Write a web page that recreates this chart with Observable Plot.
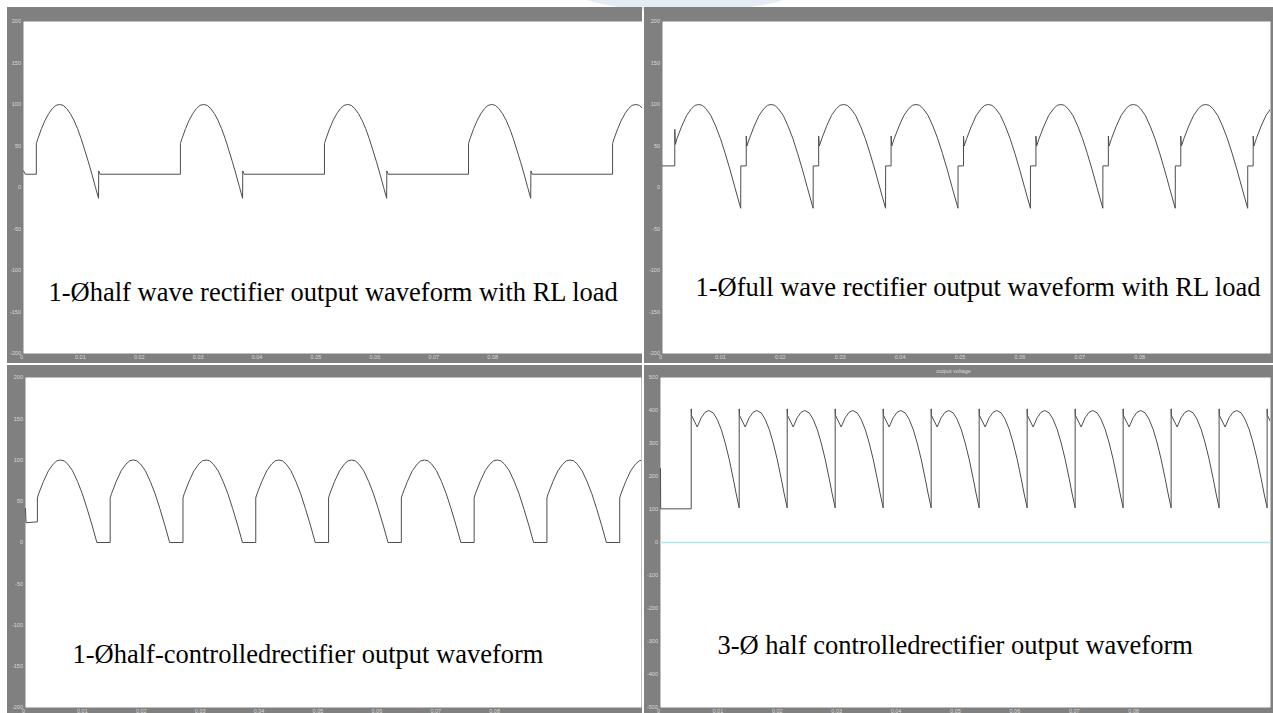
<!DOCTYPE html>
<html>
<head>
<meta charset="utf-8">
<script src="https://cdn.jsdelivr.net/npm/d3@7"></script>
<script src="https://cdn.jsdelivr.net/npm/@observablehq/plot@0.6"></script>
<style>
  html, body { margin: 0; padding: 0; background: #ffffff; }
  #page { position: relative; width: 1273px; height: 713px; overflow: hidden; background: #ffffff; }
  .panel { position: absolute; }
  .panel svg { display: block; }
  #mark { position: absolute; left: 545px; top: -70px; width: 280px; height: 82px; border-radius: 50%; background: #e4ebf2; }
</style>
</head>
<body>
<div id="page"><div id="mark"></div></div>
<script>
// ---- tick values and labels ----
const xTicks = [0, 0.01, 0.02, 0.03, 0.04, 0.05, 0.06, 0.07, 0.08];
const xTickLabels = ["0", "0.01", "0.02", "0.03", "0.04", "0.05", "0.06", "0.07", "0.08"];
const yTicks200 = [200, 150, 100, 50, 0, -50, -100, -150, -200];
const yTicks500 = [500, 400, 300, 200, 100, 0, -100, -200, -300, -400, -500];

// ---- captions ----
const captions = [
  "1-Øhalf wave rectifier output waveform with RL load",
  "1-Øfull wave rectifier output waveform with RL load",
  "1-Øhalf-controlledrectifier output waveform",
  "3-Ø half controlledrectifier output waveform"
];
const scopeTitle = "output voltage";

// ---- series: [time (s), output voltage (V)] ----
const halfWaveRL = [
  [0,20],[0.0003,16],[0.00218,16],[0.00218,53],[0.00245,59],[0.00306,71],[0.00367,81],[0.00428,89],[0.00489,95],[0.0055,99],[0.00612,100],[0.00673,99],[0.00734,95],[0.00795,89],[0.00856,81],[0.00917,71],[0.00978,59],[0.0104,45],[0.01101,31],[0.01162,16],[0.01223,0],[0.01274,-13],[0.01277,20],[0.01301,16],
  [0.02664,16],[0.02664,53],[0.02691,59],[0.02752,71],[0.02813,81],[0.02874,89],[0.02935,95],[0.02996,99],[0.03058,100],[0.03119,99],[0.0318,95],[0.03241,89],[0.03302,81],[0.03363,71],[0.03424,59],[0.03486,45],[0.03547,31],[0.03608,16],[0.03669,0],[0.0372,-13],[0.03723,20],[0.03747,16],
  [0.0511,16],[0.0511,53],[0.05137,59],[0.05198,71],[0.05259,81],[0.0532,89],[0.05381,95],[0.05442,99],[0.05504,100],[0.05565,99],[0.05626,95],[0.05687,89],[0.05748,81],[0.05809,71],[0.0587,59],[0.05932,45],[0.05993,31],[0.06054,16],[0.06115,0],[0.06166,-13],[0.06169,20],[0.06193,16],
  [0.07556,16],[0.07556,53],[0.07583,59],[0.07644,71],[0.07705,81],[0.07766,89],[0.07827,95],[0.07888,99],[0.0795,100],[0.08011,99],[0.08072,95],[0.08133,89],[0.08194,81],[0.08255,71],[0.08316,59],[0.08378,45],[0.08439,31],[0.085,16],[0.08561,0],[0.08612,-13],[0.08615,20],[0.08639,16],
  [0.10002,16],[0.10002,53],[0.10029,59],[0.1009,71],[0.10151,81],[0.10212,89],[0.10273,95],[0.10334,99],[0.10396,100],[0.10457,99],[0.10518,95]
];

const fullWaveRL = [
  [0,26],[0.00205,26],[0.00205,70],[0.00215,52],[0.00242,59],[0.00322,74],[0.00404,87],[0.00484,95],[0.00544,99],[0.00605,100],[0.00665,99],[0.00725,95],[0.00805,87],[0.00887,74],[0.00967,59],[0.01047,41],[0.01129,21],[0.01209,0],[0.01257,-12.5],[0.01306,-25],[0.01307,26],
  [0.01398,26],[0.01398,62],[0.01409,50],[0.01451,59],[0.01531,74],[0.01613,87],[0.01693,95],[0.01753,99],[0.01814,100],[0.01874,99],[0.01934,95],[0.02014,87],[0.02096,74],[0.02176,59],[0.02256,41],[0.02338,21],[0.02418,0],[0.02466,-12.5],[0.02515,-25],[0.02516,26],
  [0.02607,26],[0.02607,62],[0.02618,50],[0.0266,59],[0.0274,74],[0.02822,87],[0.02902,95],[0.02962,99],[0.03023,100],[0.03083,99],[0.03143,95],[0.03223,87],[0.03305,74],[0.03385,59],[0.03465,41],[0.03547,21],[0.03627,0],[0.03675,-12.5],[0.03724,-25],[0.03725,26],
  [0.03816,26],[0.03816,62],[0.03827,50],[0.03869,59],[0.03949,74],[0.04031,87],[0.04111,95],[0.04171,99],[0.04232,100],[0.04292,99],[0.04352,95],[0.04432,87],[0.04514,74],[0.04594,59],[0.04674,41],[0.04756,21],[0.04836,0],[0.04884,-12.5],[0.04933,-25],[0.04934,26],
  [0.05025,26],[0.05025,62],[0.05036,50],[0.05078,59],[0.05158,74],[0.0524,87],[0.0532,95],[0.0538,99],[0.05441,100],[0.05501,99],[0.05561,95],[0.05641,87],[0.05723,74],[0.05803,59],[0.05883,41],[0.05965,21],[0.06045,0],[0.06093,-12.5],[0.06142,-25],[0.06143,26],
  [0.06234,26],[0.06234,62],[0.06245,50],[0.06287,59],[0.06367,74],[0.06449,87],[0.06529,95],[0.06589,99],[0.0665,100],[0.0671,99],[0.0677,95],[0.0685,87],[0.06932,74],[0.07012,59],[0.07092,41],[0.07174,21],[0.07254,0],[0.07302,-12.5],[0.07351,-25],[0.07352,26],
  [0.07443,26],[0.07443,62],[0.07454,50],[0.07496,59],[0.07576,74],[0.07658,87],[0.07738,95],[0.07798,99],[0.07859,100],[0.07919,99],[0.07979,95],[0.08059,87],[0.08141,74],[0.08221,59],[0.08301,41],[0.08383,21],[0.08463,0],[0.08511,-12.5],[0.0856,-25],[0.08561,26],
  [0.08652,26],[0.08652,62],[0.08663,50],[0.08705,59],[0.08785,74],[0.08867,87],[0.08947,95],[0.09007,99],[0.09068,100],[0.09128,99],[0.09188,95],[0.09268,87],[0.0935,74],[0.0943,59],[0.0951,41],[0.09592,21],[0.09672,0],[0.0972,-12.5],[0.09769,-25],[0.0977,26],
  [0.09861,26],[0.09861,62],[0.09872,50],[0.09914,59],[0.09994,74],[0.10076,87],[0.10156,95]
];

const halfControlled1ph = [
  [0,41],[0.0001,24],[0.00202,25],[0.00202,54],[0.00223,59],[0.00305,74],[0.00389,87],[0.0047,95],[0.00532,99],[0.00594,100],[0.00656,99],[0.00718,95],[0.00799,87],[0.00883,74],[0.00965,59],[0.01046,41],[0.0113,21],[0.01212,0],
  [0.01438,0],[0.01438,54],[0.01459,59],[0.01541,74],[0.01625,87],[0.01706,95],[0.01768,99],[0.0183,100],[0.01892,99],[0.01954,95],[0.02035,87],[0.02119,74],[0.02201,59],[0.02282,41],[0.02366,21],[0.02448,0],
  [0.02674,0],[0.02674,54],[0.02695,59],[0.02777,74],[0.02861,87],[0.02942,95],[0.03004,99],[0.03066,100],[0.03128,99],[0.0319,95],[0.03271,87],[0.03355,74],[0.03437,59],[0.03518,41],[0.03602,21],[0.03684,0],
  [0.0391,0],[0.0391,54],[0.03931,59],[0.04013,74],[0.04097,87],[0.04178,95],[0.0424,99],[0.04302,100],[0.04364,99],[0.04426,95],[0.04507,87],[0.04591,74],[0.04673,59],[0.04754,41],[0.04838,21],[0.0492,0],
  [0.05146,0],[0.05146,54],[0.05167,59],[0.05249,74],[0.05333,87],[0.05414,95],[0.05476,99],[0.05538,100],[0.056,99],[0.05662,95],[0.05743,87],[0.05827,74],[0.05909,59],[0.0599,41],[0.06074,21],[0.06156,0],
  [0.06382,0],[0.06382,54],[0.06403,59],[0.06485,74],[0.06569,87],[0.0665,95],[0.06712,99],[0.06774,100],[0.06836,99],[0.06898,95],[0.06979,87],[0.07063,74],[0.07145,59],[0.07226,41],[0.0731,21],[0.07392,0],
  [0.07618,0],[0.07618,54],[0.07639,59],[0.07721,74],[0.07805,87],[0.07886,95],[0.07948,99],[0.0801,100],[0.08072,99],[0.08134,95],[0.08215,87],[0.08299,74],[0.08381,59],[0.08462,41],[0.08546,21],[0.08628,0],
  [0.08854,0],[0.08854,54],[0.08875,59],[0.08957,74],[0.09041,87],[0.09122,95],[0.09184,99],[0.09246,100],[0.09308,99],[0.0937,95],[0.09451,87],[0.09535,74],[0.09617,59],[0.09698,41],[0.09782,21],[0.09864,0],
  [0.1009,0],[0.1009,54],[0.10111,59],[0.10193,74],[0.10277,87],[0.10358,95],[0.1042,99],[0.10482,100]
];

const halfControlled3ph = [
  [0,224],[0.00003,102],[0.00517,102],
  [0.00517,405],[0.00522,385],[0.00618,350],[0.00685,378],[0.00753,395],[0.00813,400],[0.00887,393],[0.00955,373],[0.01022,343],[0.01089,302],[0.01157,252],[0.01224,194],[0.01275,147],[0.01325,105],
  [0.01325,405],[0.0133,385],[0.01426,350],[0.01493,378],[0.01561,395],[0.01621,400],[0.01695,393],[0.01763,373],[0.0183,343],[0.01897,302],[0.01965,252],[0.02032,194],[0.02083,147],[0.02133,105],
  [0.02133,405],[0.02138,385],[0.02234,350],[0.02301,378],[0.02369,395],[0.02429,400],[0.02503,393],[0.02571,373],[0.02638,343],[0.02705,302],[0.02773,252],[0.0284,194],[0.02891,147],[0.02941,105],
  [0.02941,405],[0.02946,385],[0.03042,350],[0.03109,378],[0.03177,395],[0.03237,400],[0.03311,393],[0.03379,373],[0.03446,343],[0.03513,302],[0.03581,252],[0.03648,194],[0.03699,147],[0.03749,105],
  [0.03749,405],[0.03754,385],[0.0385,350],[0.03917,378],[0.03985,395],[0.04045,400],[0.04119,393],[0.04187,373],[0.04254,343],[0.04321,302],[0.04389,252],[0.04456,194],[0.04507,147],[0.04557,105],
  [0.04557,405],[0.04562,385],[0.04658,350],[0.04725,378],[0.04793,395],[0.04853,400],[0.04927,393],[0.04995,373],[0.05062,343],[0.05129,302],[0.05197,252],[0.05264,194],[0.05315,147],[0.05365,105],
  [0.05365,405],[0.0537,385],[0.05466,350],[0.05533,378],[0.05601,395],[0.05661,400],[0.05735,393],[0.05803,373],[0.0587,343],[0.05937,302],[0.06005,252],[0.06072,194],[0.06123,147],[0.06173,105],
  [0.06173,405],[0.06178,385],[0.06274,350],[0.06341,378],[0.06409,395],[0.06469,400],[0.06543,393],[0.06611,373],[0.06678,343],[0.06745,302],[0.06813,252],[0.0688,194],[0.06931,147],[0.06981,105],
  [0.06981,405],[0.06986,385],[0.07082,350],[0.07149,378],[0.07217,395],[0.07277,400],[0.07351,393],[0.07419,373],[0.07486,343],[0.07553,302],[0.07621,252],[0.07688,194],[0.07739,147],[0.07789,105],
  [0.07789,405],[0.07794,385],[0.0789,350],[0.07957,378],[0.08025,395],[0.08085,400],[0.08159,393],[0.08227,373],[0.08294,343],[0.08361,302],[0.08429,252],[0.08496,194],[0.08547,147],[0.08597,105],
  [0.08597,405],[0.08602,385],[0.08698,350],[0.08765,378],[0.08833,395],[0.08893,400],[0.08967,393],[0.09035,373],[0.09102,343],[0.09169,302],[0.09237,252],[0.09304,194],[0.09355,147],[0.09405,105],
  [0.09405,405],[0.0941,385],[0.09506,350],[0.09573,378],[0.09641,395],[0.09701,400],[0.09775,393],[0.09843,373],[0.0991,343],[0.09977,302],[0.10045,252],[0.10112,194],[0.10163,147],[0.10213,105],
  [0.10213,405],[0.10218,385],[0.10314,350],[0.10381,378]
];

// ---- styling ----
const GREY = "#808080";
const TICK = "#dadada";
const TRACE = "#4d4d4d";
const SANS = "Liberation Sans, Arial, sans-serif";
const SERIF = "'Liberation Serif', 'Times New Roman', serif";

function scope(cfg) {
  const marks = [
    Plot.frame({fill: "white", stroke: null}),
    Plot.axisX(xTicks, {tickSize: 0, tickPadding: 1.5, fontSize: 5.5, fill: TICK, dx: -2, label: null,
      tickFormat: (d) => xTickLabels[xTicks.indexOf(d)]}),
    Plot.axisY(cfg.yTicks, {tickSize: 0, tickPadding: 2.5, fontSize: 5.5, fill: TICK, label: null, tickFormat: d => String(d)}),
    ...(cfg.extra || []),
    Plot.line(cfg.data, {x: d => d[0], y: d => d[1], stroke: TRACE, strokeWidth: 1, curve: "linear", clip: true}),
    Plot.text([cfg.caption], {frameAnchor: "top-left", textAnchor: "start", lineAnchor: "bottom",
      dx: cfg.capDx, dy: cfg.capDy, fontSize: 26.5, fontFamily: SERIF, fill: "#000"})
  ];
  const svg = Plot.plot({
    width: cfg.width, height: cfg.height,
    marginTop: cfg.m[0], marginRight: cfg.m[1], marginBottom: cfg.m[2], marginLeft: cfg.m[3],
    x: {domain: [0, cfg.xMax]},
    y: {domain: cfg.yDomain},
    style: {background: GREY, fontFamily: SANS, overflow: "visible"},
    marks
  });
  const wrap = document.createElement("div");
  wrap.className = "panel";
  wrap.style.left = cfg.left + "px";
  wrap.style.top = cfg.top + "px";
  wrap.appendChild(svg);
  document.getElementById("page").appendChild(wrap);
}

scope({data: halfWaveRL, left: 7, top: 7, width: 635, height: 356, m: [14, 0, 10, 16],
  xMax: 0.1051, yDomain: [-200, 200], yTicks: yTicks200, caption: captions[0], capDx: 25, capDy: 279});

scope({data: fullWaveRL, left: 644, top: 7, width: 629, height: 356, m: [14, 3, 10, 18],
  xMax: 0.1015, yDomain: [-200, 200], yTicks: yTicks200, caption: captions[1], capDx: 33, capDy: 274});

scope({data: halfControlled1ph, left: 7, top: 365, width: 635, height: 348, m: [12, 1, 6, 18],
  xMax: 0.1046, yDomain: [-200, 200], yTicks: yTicks200, caption: captions[2], capDx: 47, capDy: 285});

scope({data: halfControlled3ph, left: 644, top: 365, width: 629, height: 348, m: [12, 3, 6, 16],
  xMax: 0.1027, yDomain: [-500, 500], yTicks: yTicks500, caption: captions[3], capDx: 57, capDy: 276,
  extra: [
    Plot.ruleY([0], {stroke: "#aee6ee", strokeWidth: 1.5}),
    Plot.text([scopeTitle], {frameAnchor: "top", dx: -12, dy: -6, fontSize: 5.5, fill: TICK, lineAnchor: "middle"})
  ]});
</script>
</body>
</html>
